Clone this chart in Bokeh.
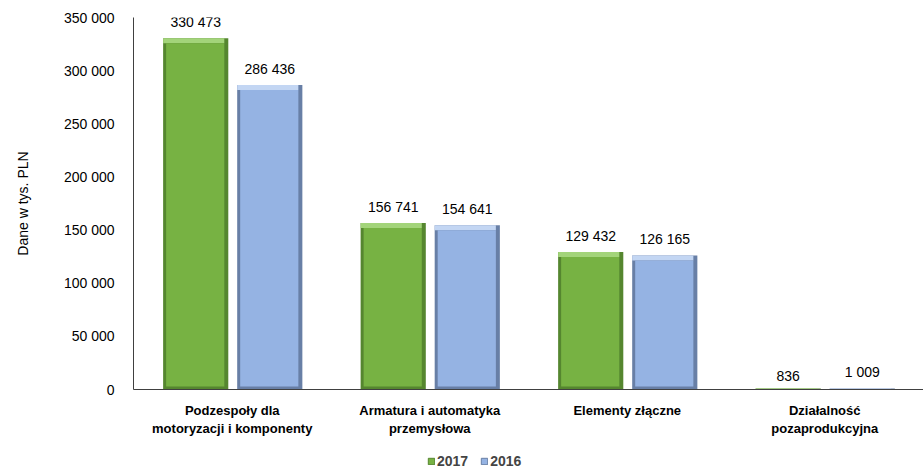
from bokeh.plotting import figure
from bokeh.layouts import column
from bokeh.models import ColumnDataSource, FactorRange, LabelSet, Legend, LegendItem, CustomJSTickFormatter
from bokeh.core.properties import value
from bokeh.transform import dodge
from bokeh.embed import file_html
from bokeh.resources import INLINE

categories = ["Podzespoły dla\nmotoryzacji i komponenty", "Armatura i automatyka\nprzemysłowa",
              "Elementy złączne", "Działalność\npozaprodukcyjna"]
v2017 = [330473, 156741, 129432, 836]
v2016 = [286436, 154641, 126165, 1009]
series_names = ["2017", "2016"]

def fmt(v):
    return f"{v:,}".replace(",", " ")

# bevel insets expressed in data units (style only)
TOP_IN = 4700
BOT_IN = 2800

def bevel_cols(vals):
    face_top = [max(v - TOP_IN, 0) for v in vals]
    face_bot = [min(BOT_IN, t) for t in face_top]
    return face_top, face_bot

fa_t, fa_b = bevel_cols(v2017)
fb_t, fb_b = bevel_cols(v2016)

src = ColumnDataSource(dict(cat=categories, a=v2017, b=v2016,
                            a_ft=fa_t, a_fb=fa_b, b_ft=fb_t, b_fb=fb_b,
                            la=[fmt(v) for v in v2017], lb=[fmt(v) for v in v2016]))

FONT = "Liberation Sans"
p = figure(frame_width=790, frame_height=372, x_range=FactorRange(*categories), y_range=(0, 350000),
           output_backend="svg", toolbar_location=None,
           min_border_left=133, min_border_top=17, min_border_right=0, min_border_bottom=64)
p.outline_line_color = None
p.grid.grid_line_color = None
p.x_range.range_padding = 0

styles = {
    "a": dict(off=-0.185, face="#77b243", light="#a3d47a", dark="#55862f"),
    "b": dict(off=0.19, face="#95b3e3", light="#c3d6f3", dark="#687fa6"),
}
W = 0.33
PX = 1.0 / 197.5
for key, st in styles.items():
    off = st["off"]
    p.vbar(x=dodge("cat", off, range=p.x_range), top=key, bottom=0, width=W, source=src,
           fill_color=st["dark"], line_color=None)
    p.vbar(x=dodge("cat", off - 2 * PX, range=p.x_range), top=key, bottom=key + "_ft", width=W - 4 * PX,
           source=src, fill_color=st["light"], line_color=None)
    p.vbar(x=dodge("cat", off - 0.5 * PX, range=p.x_range), top=key + "_ft",
           bottom=key + "_fb", width=W - 7 * PX, source=src,
           fill_color=st["face"], line_color=None)

for col, lab, off in [("a", "la", styles["a"]["off"]), ("b", "lb", styles["b"]["off"])]:
    ls = LabelSet(x=dodge("cat", off, range=p.x_range), y=col, text=lab, source=src,
                  text_align="center", text_baseline="bottom", y_offset=8,
                  text_font=value(FONT), text_font_size="14px", text_color="#000000")
    p.add_layout(ls)

p.yaxis.formatter = CustomJSTickFormatter(code='return tick.toString().replace(/\\B(?=(\\d{3})+(?!\\d))/g, " ");')
p.yaxis.ticker.desired_num_ticks = 8
p.yaxis.axis_label = "Dane w tys. PLN"
p.yaxis.axis_label_text_font = FONT
p.yaxis.axis_label_text_font_style = "normal"
p.yaxis.axis_label_text_font_size = "14px"
p.yaxis.axis_label_text_color = "#000000"
p.yaxis.axis_label_standoff = 30
p.yaxis.major_label_standoff = 15
for ax in (p.xaxis, p.yaxis):
    ax.major_label_text_font = FONT
    ax.major_label_text_font_size = "14px"
    ax.major_label_text_color = "#000000"
    ax.axis_line_color = "#404040"
    ax.major_tick_line_color = None
    ax.minor_tick_line_color = None
    ax.major_tick_out = 0
    ax.major_tick_in = 0
p.xaxis.major_label_text_font_style = "bold"
p.xaxis.major_label_text_font_size = "13px"
p.xaxis.major_label_standoff = 13

# legend in its own strip below the chart
lf = figure(width=923, height=18, x_range=(0, 1), y_range=(0, 1), output_backend="svg",
            toolbar_location=None, min_border=0)
lf.axis.visible = False
lf.grid.visible = False
lf.outline_line_color = None
nan = float("nan")
empty = ColumnDataSource(dict(x=[nan], top=[nan]))
lr = [lf.vbar(x="x", top="top", width=0.1, source=empty, fill_color=styles[k]["face"],
              line_color=styles[k]["dark"], line_width=1) for k in ("a", "b")]

legend = Legend(items=[LegendItem(label=series_names[0], renderers=[lr[0]]),
                       LegendItem(label=series_names[1], renderers=[lr[1]])],
                orientation="horizontal", location=(294, 2))
legend.label_text_font = FONT
legend.label_text_font_style = "bold"
legend.label_text_font_size = "14px"
legend.glyph_width = 8
legend.glyph_height = 8
legend.label_height = 14
legend.label_standoff = 2
legend.spacing = 12
legend.padding = 0
legend.margin = 0
legend.border_line_color = None
legend.background_fill_alpha = 0
lf.add_layout(legend, "center")

layout = column(p, lf, spacing=0)
open("out.html", "w").write(file_html(layout, INLINE))
